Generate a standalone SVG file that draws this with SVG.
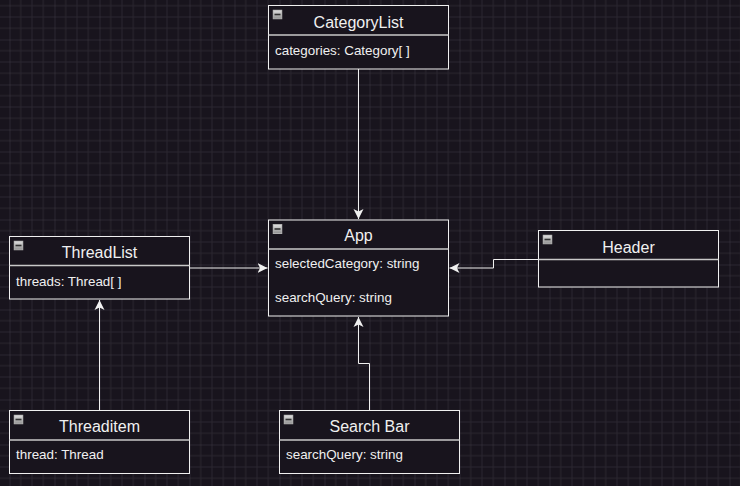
<svg xmlns="http://www.w3.org/2000/svg" width="740" height="486" viewBox="0 0 740 486">
<defs>
<pattern id="grid" x="9.5" y="39.5" width="45" height="45" patternUnits="userSpaceOnUse">
<path d="M11.25 0V45M22.5 0V45M33.75 0V45M0 11.25H45M0 22.5H45M0 33.75H45" stroke="#2a2630" stroke-width="1" fill="none"/>
<path d="M0 0V45M0 0H45" stroke="#3e3a43" stroke-width="1" fill="none"/>
</pattern>
<linearGradient id="ig" x1="0" y1="0" x2="0" y2="1">
<stop offset="0" stop-color="#e0e0e0"/>
<stop offset="1" stop-color="#909090"/>
</linearGradient>
<marker id="arr" markerUnits="userSpaceOnUse" markerWidth="12" markerHeight="12" refX="10" refY="5" orient="auto" viewBox="0 0 12 10">
<path d="M0 0L10 5L0 10L2.5 5Z" fill="#f0f0f0"/>
</marker>
<symbol id="icon" viewBox="0 0 10 10">
<rect x="0.5" y="0.5" width="9" height="9" fill="url(#ig)" stroke="#b0b0b0" stroke-width="1"/>
<rect x="2" y="4.2" width="6" height="1.6" fill="#333"/>
</symbol>
</defs>
<style>
.box{fill:#18141d;stroke:#f0f0f0;stroke-width:1}
.div{stroke:#c8c8c8;stroke-width:1.5}
.t{font-family:"Liberation Sans",Arial,sans-serif;font-size:16px;fill:#f0f0f0;text-anchor:middle}
.a{font-family:"Liberation Sans",Arial,sans-serif;font-size:13.4px;fill:#f0f0f0}
.e{fill:none;stroke:#f0f0f0;stroke-width:1}
</style>
<rect width="740" height="486" fill="#18141d"/>
<rect width="740" height="486" fill="url(#grid)"/>

<g id="connectors">
<path class="e" d="M358.5 69V219" marker-end="url(#arr)"/>
<path class="e" d="M189.5 268H267.5" marker-end="url(#arr)"/>
<path class="e" d="M538.5 259.5H493.5V268H449.5" marker-end="url(#arr)"/>
<path class="e" d="M99.5 410.5V300" marker-end="url(#arr)"/>
<path class="e" d="M369.5 410.5V363.5H358.5V317" marker-end="url(#arr)"/>
</g>

<g id="CategoryList">
<rect class="box" x="268.5" y="5.5" width="180" height="63.5"/>
<line class="div" x1="268.5" y1="35" x2="448.5" y2="35"/>
<use href="#icon" x="272.5" y="9.5" width="10" height="10"/>
<text class="t" x="358.5" y="27.5">CategoryList</text>
<text class="a" x="275" y="54.5">categories: Category[ ]</text>
</g>

<g id="App">
<rect class="box" x="268.5" y="220" width="180" height="96"/>
<line class="div" x1="268.5" y1="249" x2="448.5" y2="249"/>
<use href="#icon" x="272.5" y="224" width="10" height="10"/>
<text class="t" x="358.5" y="240.5">App</text>
<text class="a" x="275" y="267.5">selectedCategory: string</text>
<text class="a" x="275" y="302">searchQuery: string</text>
</g>

<g id="ThreadList">
<rect class="box" x="9.5" y="236.5" width="180" height="62.5"/>
<line class="div" x1="9.5" y1="265.5" x2="189.5" y2="265.5"/>
<use href="#icon" x="13.5" y="240.5" width="10" height="10"/>
<text class="t" x="99.5" y="257.5">ThreadList</text>
<text class="a" x="16" y="285.5">threads: Thread[ ]</text>
</g>

<g id="Header">
<rect class="box" x="538.5" y="230.5" width="180" height="56.5"/>
<line class="div" x1="538.5" y1="259.5" x2="718.5" y2="259.5"/>
<use href="#icon" x="542.5" y="234.5" width="10" height="10"/>
<text class="t" x="628.5" y="252.5">Header</text>
</g>

<g id="Threaditem">
<rect class="box" x="9.5" y="410.5" width="180" height="63"/>
<line class="div" x1="9.5" y1="440" x2="189.5" y2="440"/>
<use href="#icon" x="13.5" y="414.5" width="10" height="10"/>
<text class="t" x="99.5" y="432">Threaditem</text>
<text class="a" x="16" y="458.5">thread: Thread</text>
</g>

<g id="SearchBar">
<rect class="box" x="279.5" y="410.5" width="180" height="63"/>
<line class="div" x1="279.5" y1="440" x2="459.5" y2="440"/>
<use href="#icon" x="283.5" y="414.5" width="10" height="10"/>
<text class="t" x="369.5" y="432">Search Bar</text>
<text class="a" x="286" y="458.5">searchQuery: string</text>
</g>
</svg>
